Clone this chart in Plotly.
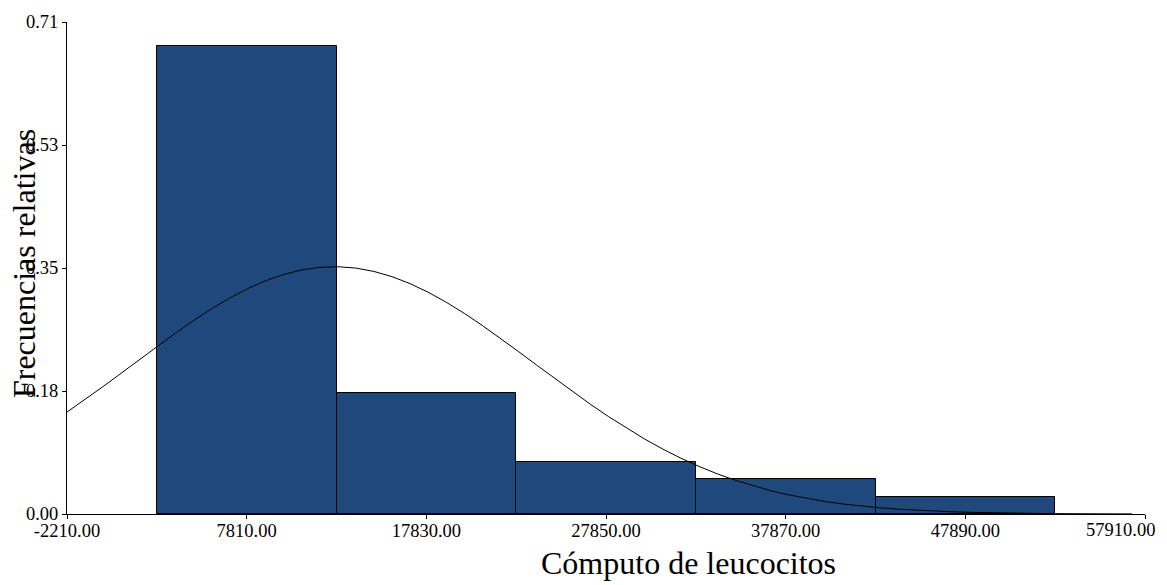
import numpy as np
import plotly.graph_objects as go

# Histogram of white-cell counts (relative frequencies)
bin_centers = [7810, 17830, 27850, 37870, 47890]
rel_freq = [0.675, 0.175, 0.075, 0.050, 0.025]
bin_width = 10020

# Fitted normal curve parameters
fit_mean = 12700
fit_sd = 11200

x_tick_vals = [-2210, 7810, 17830, 27850, 37870, 47890, 57910]
x_tick_text = ["-2210.00", "7810.00", "17830.00", "27850.00", "37870.00", "47890.00", "57910.00"]
y_tick_vals = [0.0, 0.1775, 0.355, 0.5325, 0.71]
y_tick_text = ["0.00", "0.18", "0.35", "0.53", "0.71"]

FONT = "Liberation Serif"
TICK_SIZE = 18.5

# Normal density scaled to bin width so it sits on the relative-frequency scale
xc = np.linspace(-2210, 57200, 60)
yc = bin_width / (fit_sd * np.sqrt(2 * np.pi)) * np.exp(-0.5 * ((xc - fit_mean) / fit_sd) ** 2)

fig = go.Figure()
fig.add_trace(go.Bar(
    x=bin_centers, y=rel_freq, width=bin_width,
    marker=dict(color="#1f497c", line=dict(color="black", width=1)),
    showlegend=False,
))
fig.add_trace(go.Scatter(
    x=xc, y=yc, mode="lines",
    line=dict(color="black", width=1),
    showlegend=False,
))

# The last x label would spill past the page edge, so it is drawn
# right-aligned next to its tick instead of centred on it.
shown_x_text = x_tick_text[:-1] + [""]

fig.update_layout(
    width=1167, height=585,
    margin=dict(l=67, r=22, t=19, b=71),
    paper_bgcolor="white", plot_bgcolor="white",
    font=dict(family=FONT, color="black", size=TICK_SIZE),
    bargap=0,
    xaxis=dict(
        range=[-2210, 57910], tickvals=x_tick_vals, ticktext=shown_x_text,
        showline=True, linecolor="black", linewidth=1,
        ticks="outside", ticklen=4, tickcolor="black",
        ticklabelstandoff=-4,
        showgrid=False, zeroline=False,
        tickfont=dict(family=FONT, size=TICK_SIZE, color="black"),
    ),
    yaxis=dict(
        range=[0, 0.71], tickvals=y_tick_vals, ticktext=y_tick_text,
        showline=True, linecolor="black", linewidth=1,
        ticks="outside", ticklen=4, tickcolor="black",
        showgrid=False, zeroline=False,
        tickfont=dict(family=FONT, size=TICK_SIZE, color="black"),
    ),
    annotations=[
        dict(text=x_tick_text[-1], xref="x", yref="paper",
             x=x_tick_vals[-1], y=0, xanchor="right", yanchor="top",
             xshift=12, yshift=-4, showarrow=False,
             font=dict(family=FONT, size=TICK_SIZE, color="black")),
        dict(text="Cómputo de leucocitos", xref="paper", yref="paper",
             x=(688 - 67) / (1145 - 67), y=-0.1, xanchor="center", yanchor="middle",
             showarrow=False, font=dict(family=FONT, size=32, color="black")),
        dict(text="Frecuencias relativas", xref="paper", yref="paper",
             x=(24 - 67) / (1145 - 67), y=0.508, xanchor="center", yanchor="middle",
             textangle=-90,
             showarrow=False, font=dict(family=FONT, size=32, color="black")),
    ],
)

fig.write_html("out.html")
